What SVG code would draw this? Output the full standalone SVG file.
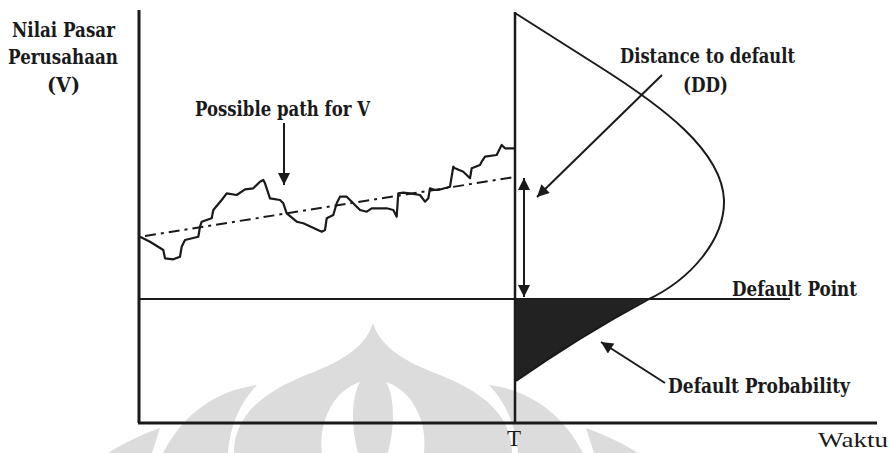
<svg xmlns="http://www.w3.org/2000/svg" width="890" height="453" viewBox="0 0 890 453">
<style>
.lbl{font-family:"DejaVu Serif","Liberation Serif",serif;font-weight:bold;fill:#1a1a1a;}
.ax{font-family:"Liberation Serif","DejaVu Serif",serif;fill:#1a1a1a;}
.ln{stroke:#1a1a1a;fill:none;}
.wm{fill:#dcdcdc;stroke:none;}
</style>
<defs>
<marker id="ah" viewBox="0 0 10 10" refX="10" refY="5" markerWidth="6.5" markerHeight="6" orient="auto-start-reverse" markerUnits="strokeWidth">
<path d="M0,0 L10,5 L0,10 Z" fill="#1a1a1a"/>
</marker>
</defs>
<rect width="890" height="453" fill="#ffffff"/>
<g id="watermark">
<path class="wm" d="M373,323 C380,345 400,360 440,375 C490,395 512,420 512,453 L234,453 C234,420 256,395 306,375 C346,360 366,345 373,323 Z"/>
<path fill="#ffffff" d="M360,382 C335,390 318,420 322,453 L358,453 C352,430 350,400 360,382 Z"/>
<path fill="#ffffff" d="M386,382 C411,390 428,420 424,453 L388,453 C394,430 396,400 386,382 Z"/>
<path class="wm" d="M257,385 C220,390 185,410 163,453 L228,453 C231,420 243,400 257,385 Z"/>
<path class="wm" d="M489,385 C526,390 561,410 583,453 L518,453 C515,420 503,400 489,385 Z"/>
<path class="wm" d="M160,428 C140,435 120,445 108,453 L152,453 Z"/>
<path class="wm" d="M586,428 C606,435 626,445 638,453 L594,453 Z"/>
</g>
<g id="axes">
<line class="ln" x1="139" y1="10" x2="139" y2="423" stroke-width="3"/>
<line class="ln" x1="138" y1="423" x2="877" y2="423" stroke-width="3"/>
<line class="ln" x1="515" y1="12" x2="515" y2="423" stroke-width="2.5"/>
<line class="ln" x1="139" y1="299" x2="790" y2="299" stroke-width="2"/>
</g>
<g id="distribution">
<path d="M516,299 L647,299 C610,320 560,350 516,381 Z" fill="#222222"/>
<path class="ln" stroke-width="2" d="M515,13 L600,67 C660,105 722,150 724,200 C725,240 690,280 647,300 C610,320 560,350 516,381"/>
</g>
<g id="trend">
<path class="ln" stroke-width="2" stroke-dasharray="11 5 3 5" d="M145,236 L515,177"/>
</g>
<g id="path-v">
<polyline class="ln" stroke-width="2.2" stroke-linejoin="round" points="140,236.7 150,241.7 163.3,250 165,258.3 173.3,259.3 180,256.7 181.7,246.7 185,240 198.3,236.7 200,226.7 201.7,221.7 211.7,218.3 213.3,210 221.7,200 226.7,193.3 236.7,195 245,189.3 253.3,188.3 260,181.7 263.3,180 265,183.3 270,198.3 280,200 283.3,203.3 286.7,213.3 296.7,221.7 303.3,223.3 321.7,231.7 325,230 326.7,218.3 333.3,215 336.7,203.3 340,196.7 346.7,196.7 351.7,201.7 360,210 366.7,211.7 371.7,208.3 386.7,208.3 393.3,210 396.7,216.7 398.3,193.3 403.3,192.7 410,193.3 420,195 425,201.7 428.3,198.3 430,188.3 435,190 438.3,190 450,186.7 453.3,166.7 455,168.3 463.3,171.7 470,178.3 471.7,168.3 480,165 481.7,161.7 485,156.7 496.7,155 500,148.3 501.7,145 505,148.3 515,148.3"/>
</g>
<g id="connectors">
<line class="ln" stroke-width="2" x1="284" y1="123" x2="284" y2="185" marker-end="url(#ah)"/>
<line class="ln" stroke-width="2" x1="524" y1="178" x2="524" y2="297" marker-start="url(#ah)" marker-end="url(#ah)"/>
<line class="ln" stroke-width="2" x1="662" y1="75" x2="537" y2="197" marker-end="url(#ah)"/>
<line class="ln" stroke-width="2" x1="665" y1="383" x2="601" y2="342" marker-end="url(#ah)"/>
</g>
<g id="labels">
<text class="lbl" x="12" y="37" font-size="20" textLength="103" lengthAdjust="spacingAndGlyphs">Nilai Pasar</text>
<text class="lbl" x="8" y="64" font-size="20" textLength="110" lengthAdjust="spacingAndGlyphs">Perusahaan</text>
<text class="lbl" x="47" y="92" font-size="20" textLength="33" lengthAdjust="spacingAndGlyphs">(V)</text>
<text class="lbl" x="195" y="116" font-size="20" textLength="175" lengthAdjust="spacingAndGlyphs">Possible path for V</text>
<text class="lbl" x="620" y="63" font-size="20" textLength="175" lengthAdjust="spacingAndGlyphs">Distance to default</text>
<text class="lbl" x="683" y="92" font-size="20" textLength="45" lengthAdjust="spacingAndGlyphs">(DD)</text>
<text class="lbl" x="732" y="296" font-size="20" textLength="125" lengthAdjust="spacingAndGlyphs">Default Point</text>
<text class="lbl" x="668" y="393" font-size="20" textLength="182" lengthAdjust="spacingAndGlyphs">Default Probability</text>
<text class="ax" x="514" y="446" font-size="23" text-anchor="middle">T</text>
<text class="ax" x="818" y="447" font-size="22" textLength="70" lengthAdjust="spacingAndGlyphs">Waktu</text>
</g>
</svg>
